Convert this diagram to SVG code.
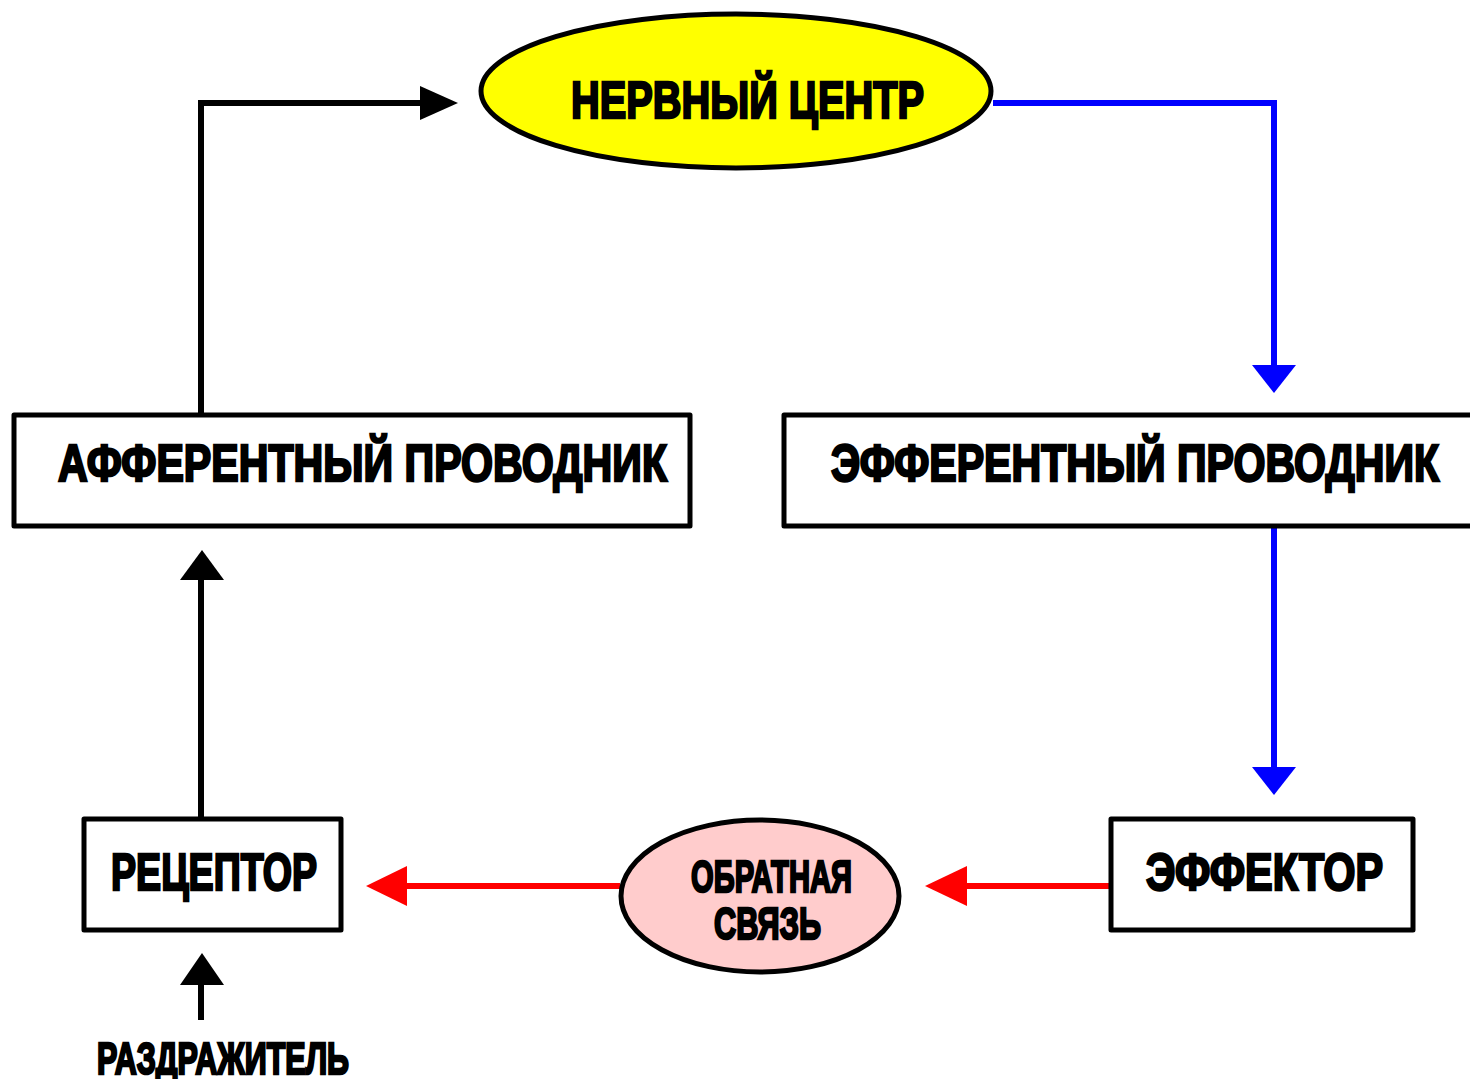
<svg xmlns="http://www.w3.org/2000/svg" width="1470" height="1079" viewBox="0 0 1470 1079">
<style>
.box{fill:#fff;stroke:#000;stroke-width:5;stroke-linejoin:round}
.t{font-family:"Liberation Sans",Arial,sans-serif;font-weight:bold;fill:#000;stroke:#000;stroke-width:2.5;stroke-linejoin:miter}
.blk{stroke:#000;stroke-width:6;fill:none}
.blu{stroke:#0000ff;stroke-width:6;fill:none}
.red{stroke:#ff0000;stroke-width:6;fill:none}
</style>
<rect width="1470" height="1079" fill="#fff"/>
<g id="connectors">
  <polyline class="blk" points="201,415 201,103 425,103"/>
  <polygon points="420,86 458,103 420,120" fill="#000"/>
  <polyline class="blu" points="993,103 1274,103 1274,368"/>
  <polygon points="1252,365 1296,365 1274,393" fill="#0000ff"/>
  <line class="blu" x1="1274" y1="526" x2="1274" y2="770"/>
  <polygon points="1252,767 1296,767 1274,795" fill="#0000ff"/>
  <line class="red" x1="1110" y1="886" x2="962" y2="886"/>
  <polygon points="967,866 967,906 925,886" fill="#ff0000"/>
  <line class="red" x1="620" y1="886" x2="402" y2="886"/>
  <polygon points="407,866 407,906 366,886" fill="#ff0000"/>
  <line class="blk" x1="201" y1="819" x2="201" y2="576"/>
  <polygon points="180,580 224,580 202,550" fill="#000"/>
  <line class="blk" x1="201" y1="1020" x2="201" y2="980"/>
  <polygon points="180,985 224,985 202,953" fill="#000"/>
</g>
<g id="nerve-center">
  <ellipse cx="736" cy="91" rx="255" ry="77" fill="#ffff00" stroke="#000" stroke-width="5"/>
  <text class="t" x="571" y="118" font-size="52" textLength="353" lengthAdjust="spacingAndGlyphs">НЕРВНЫЙ ЦЕНТР</text>
</g>
<g id="afferent">
  <rect class="box" x="14" y="415" width="676" height="111"/>
  <text class="t" x="58" y="481" font-size="52" textLength="609" lengthAdjust="spacingAndGlyphs">АФФЕРЕНТНЫЙ ПРОВОДНИК</text>
</g>
<g id="efferent">
  <rect class="box" x="784" y="415" width="700" height="111"/>
  <text class="t" x="831" y="481" font-size="52" textLength="608" lengthAdjust="spacingAndGlyphs">ЭФФЕРЕНТНЫЙ ПРОВОДНИК</text>
</g>
<g id="receptor">
  <rect class="box" x="84" y="819" width="257" height="111"/>
  <text class="t" x="111" y="890" font-size="52" textLength="206" lengthAdjust="spacingAndGlyphs">РЕЦЕПТОР</text>
</g>
<g id="effector">
  <rect class="box" x="1111" y="819" width="302" height="111"/>
  <text class="t" x="1146" y="890" font-size="52" textLength="237" lengthAdjust="spacingAndGlyphs">ЭФФЕКТОР</text>
</g>
<g id="feedback">
  <ellipse cx="760" cy="896" rx="139" ry="76" fill="#ffcccc" stroke="#000" stroke-width="5"/>
  <text class="t" x="691" y="892" font-size="45" textLength="161" lengthAdjust="spacingAndGlyphs">ОБРАТНАЯ</text>
  <text class="t" x="714" y="939" font-size="45" textLength="107" lengthAdjust="spacingAndGlyphs">СВЯЗЬ</text>
</g>
<g id="stimulus">
  <text class="t" x="97" y="1074" font-size="44" textLength="252" lengthAdjust="spacingAndGlyphs">РАЗДРАЖИТЕЛЬ</text>
</g>
</svg>
